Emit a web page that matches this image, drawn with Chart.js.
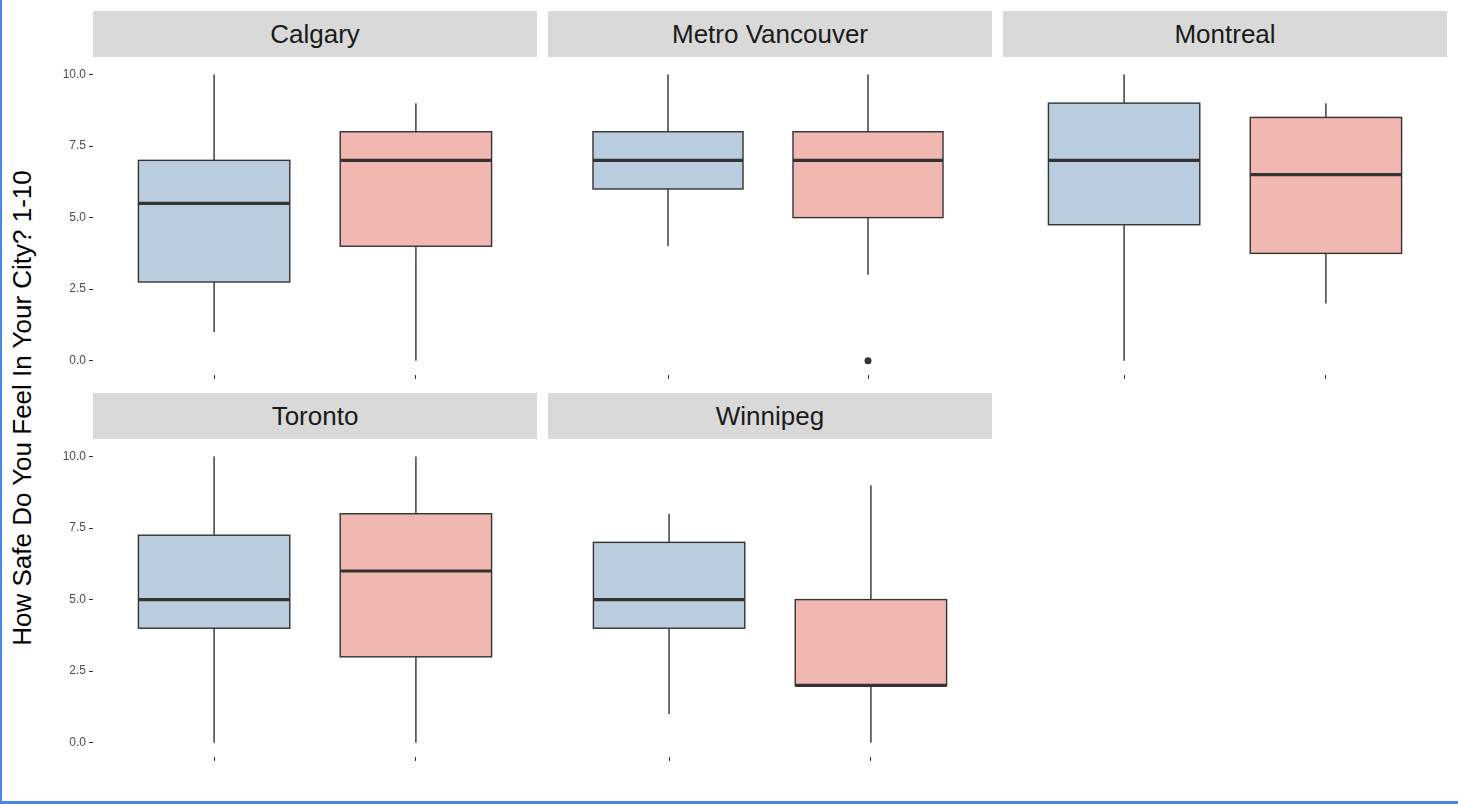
<!DOCTYPE html>
<html>
<head>
<meta charset="utf-8">
<script src="https://cdn.jsdelivr.net/npm/chart.js@4/dist/chart.umd.min.js"></script>
<style>
  body { margin: 0; background: #fff; font-family: "Liberation Sans", Arial, sans-serif; }
  #wrap { position: relative; width: 1458px; height: 804px; box-sizing: border-box;
          border-left: 2px solid #4a86e8; border-bottom: 3px solid #4a86e8; }
  .strip { position: absolute; background: #d9d9d9; color: #1a1a1a; font-size: 26px;
           text-align: center; line-height: 46px; height: 46px; }
  canvas { position: absolute; }
  #ytitle { position: absolute; left: 20px; top: 408px; transform: translate(-50%, -50%) rotate(-90deg);
            font-size: 26px; color: #000; white-space: nowrap; }
</style>
</head>
<body>
<div id="wrap"><div id="ytitle">How Safe Do You Feel In Your City? 1-10</div></div>
<script>
  const cities = ["Calgary", "Metro Vancouver", "Montreal", "Toronto", "Winnipeg"];
  // [min, q1, median, q3, max] for the two groups per city
  const blueStats = [
    [1, 2.75, 5.5, 7, 10],
    [4, 6, 7, 8, 10],
    [0, 4.75, 7, 9, 10],
    [0, 4, 5, 7.25, 10],
    [1, 4, 5, 7, 8]
  ];
  const redStats = [
    [0, 4, 7, 8, 9],
    [3, 5, 7, 8, 10],
    [2, 3.75, 6.5, 8.5, 9],
    [0, 3, 6, 8, 10],
    [0, 2, 2, 5, 9]
  ];
  const redOutliers = [[], [0], [], [], []];
  const yTicks = [0, 2.5, 5, 7.5, 10];

  const wrap = document.getElementById("wrap");
  const colLeft = [91, 546, 1001];
  const panelW = 444;
  const axisW = 53;
  const rowTop = [11, 393];

  const boxPlugin = {
    id: "boxes",
    afterDatasetsDraw(chart) {
      const { ctx, scales: { x, y } } = chart;
      const groups = chart.options.plugins.boxes.groups;
      groups.forEach((g, gi) => {
        const s = g.stats;
        const cx = x.getPixelForValue(gi + 1);
        const half = (x.getPixelForValue(1.375) - x.getPixelForValue(1));
        ctx.save();
        ctx.strokeStyle = "#333333";
        ctx.lineWidth = 1.4;
        ctx.beginPath();
        ctx.moveTo(cx, y.getPixelForValue(s[3]));
        ctx.lineTo(cx, y.getPixelForValue(s[4]));
        ctx.moveTo(cx, y.getPixelForValue(s[1]));
        ctx.lineTo(cx, y.getPixelForValue(s[0]));
        ctx.stroke();
        const top = y.getPixelForValue(s[3]);
        const bot = y.getPixelForValue(s[1]);
        ctx.fillStyle = g.color;
        ctx.fillRect(cx - half, top, half * 2, bot - top);
        ctx.strokeRect(cx - half, top, half * 2, bot - top);
        ctx.lineWidth = 3.2;
        ctx.beginPath();
        const my = y.getPixelForValue(s[2]);
        ctx.moveTo(cx - half, my);
        ctx.lineTo(cx + half, my);
        ctx.stroke();
        ctx.restore();
      });
    }
  };

  cities.forEach((city, i) => {
    const col = i % 3, row = Math.floor(i / 3);
    const strip = document.createElement("div");
    strip.className = "strip";
    strip.style.left = colLeft[col] + "px";
    strip.style.top = rowTop[row] + "px";
    strip.style.width = panelW + "px";
    strip.textContent = city;
    wrap.appendChild(strip);

    const showY = col === 0;
    const left = colLeft[col] - axisW;
    const width = panelW + axisW;
    const canvas = document.createElement("canvas");
    canvas.style.left = left + "px";
    canvas.style.top = (rowTop[row] + 39) + "px";
    canvas.style.width = width + "px";
    canvas.style.height = "340px";
    canvas.width = width; canvas.height = 340;
    wrap.appendChild(canvas);

    new Chart(canvas, {
      type: "scatter",
      data: {
        datasets: [{
          data: redOutliers[i].map(v => ({ x: 2, y: v })),
          pointRadius: 3.5, backgroundColor: "#333333", borderWidth: 0
        }]
      },
      options: {
        responsive: false, animation: false,
        layout: { padding: 0 },
        plugins: {
          legend: { display: false }, tooltip: { enabled: false },
          boxes: { groups: [
            { stats: blueStats[i], color: "#b9cddf" },
            { stats: redStats[i], color: "#f1b7b1" }
          ] }
        },
        scales: {
          x: {
            type: "linear", min: 0.4, max: 2.6,
            afterBuildTicks: a => { a.ticks = [{ value: 1 }, { value: 2 }]; },
            afterFit: a => { a.height = 15; },
            ticks: { display: false },
            grid: { drawOnChartArea: false, drawTicks: true, tickLength: 4, color: "#333333" },
            border: { display: false }
          },
          y: {
            min: -0.5, max: 10.5,
            afterBuildTicks: a => { a.ticks = yTicks.map(v => ({ value: v })); },
            afterFit: a => { a.width = axisW; },
            ticks: { color: showY ? "#4d4d4d" : "rgba(0,0,0,0)",
                     font: { size: 12, family: "Liberation Sans" }, padding: 3,
                     callback: v => v.toFixed(1) },
            grid: { drawOnChartArea: false, drawTicks: true, tickLength: 4,
                    color: showY ? "#333333" : "rgba(0,0,0,0)" },
            border: { display: false }
          }
        }
      },
      plugins: [boxPlugin]
    });
  });
</script>
</body>
</html>
